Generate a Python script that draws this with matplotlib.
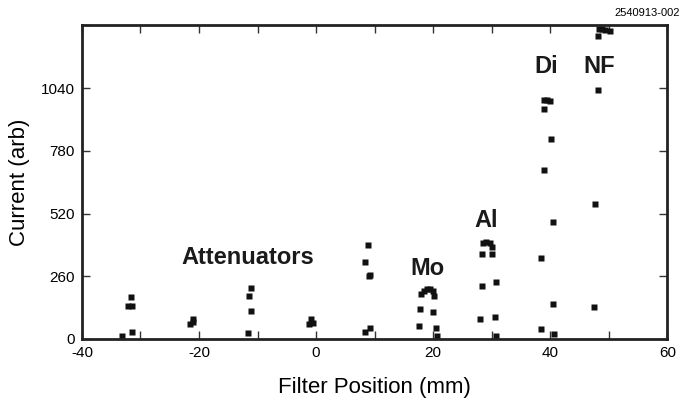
import matplotlib
matplotlib.use("Agg")
import matplotlib.pyplot as plt

# positions (mm) and currents (arb)
pos = [-33.2, -31.7, -32.1, -31.4, -31.4,
       -21.5, -21.1, -21.0,
       -11.2, -11.4, -11.1, -11.7,
       -1.25, -0.9, -0.46,
       8.84, 8.43, 9.0, 9.2, 8.43, 9.28,
       17.95, 18.35, 18.9, 19.5, 19.95, 20.1, 17.8, 20.05, 17.66, 20.56, 20.7,
       28.5, 29.06, 29.63, 30.03, 28.26, 30.1, 28.26, 30.7, 27.97, 30.65, 30.8,
       38.86, 39.44, 39.88, 38.86, 40.06, 38.86, 40.4, 38.35, 40.4, 38.35, 40.7,
       48.09, 48.3, 48.8, 49.4, 50.26, 48.09, 47.58, 47.4]
current = [14, 173, 137, 137, 28,
           62, 82, 69,
           210, 177, 115, 24,
           62, 82, 65,
           388, 318, 262, 265, 28, 44,
           186, 197, 205, 205, 200, 177, 123, 111, 54, 44, 14,
           397, 402, 399, 383, 351, 351, 218, 235, 82, 90, 14,
           990, 990, 986, 952, 829, 699, 483, 334, 143, 41, 19,
           1031, 1283, 1283, 1280, 1276, 1256, 558, 131]

labels = ["Attenuators", "Mo", "Al", "Di", "NF"]
label_x = [-11.6, 19.0, 29.0, 39.3, 48.4]
label_y = [337, 293, 493, 1128, 1128]

plt.rcParams['font.family'] = ['Liberation Sans', 'DejaVu Sans']

fig = plt.figure(figsize=(6.83, 4.03), dpi=100)
ax = fig.add_axes([0.120, 0.159, 0.857, 0.778])

ax.plot(pos, current, 's', color='#111111', ms=3.8, mec='none')

for t, x, y in zip(labels, label_x, label_y):
    ax.text(x, y, t, ha='center', va='center', fontsize=17,
            fontweight='bold', color='#1a1a1a', fontstretch='condensed')

ax.set_xlim(-40, 60)
ax.set_ylim(0, 1300)
ax.set_xticks([-40, -30, -20, -10, 0, 10, 20, 30, 40, 50, 60])
ax.set_xticklabels(['-40', '', '-20', '', '0', '', '20', '', '40', '', '60'])
ax.set_yticks([0, 260, 520, 780, 1040, 1300])
ax.set_yticklabels(['0', '260', '520', '780', '1040', ''])

ax.tick_params(direction='in', length=6, width=1, top=True, right=True,
               labelsize=11, color='#333333', pad=5)
for s in ax.spines.values():
    s.set_linewidth(2)
    s.set_color('#222222')

ax.set_xlabel('Filter Position (mm)', fontsize=16, labelpad=12)
ax.set_ylabel('Current (arb)', fontsize=16, labelpad=8)

fig.text(0.995, 0.955, '2540913-002', ha='right', va='bottom', fontsize=8)

fig.savefig('out.png', dpi=100)
